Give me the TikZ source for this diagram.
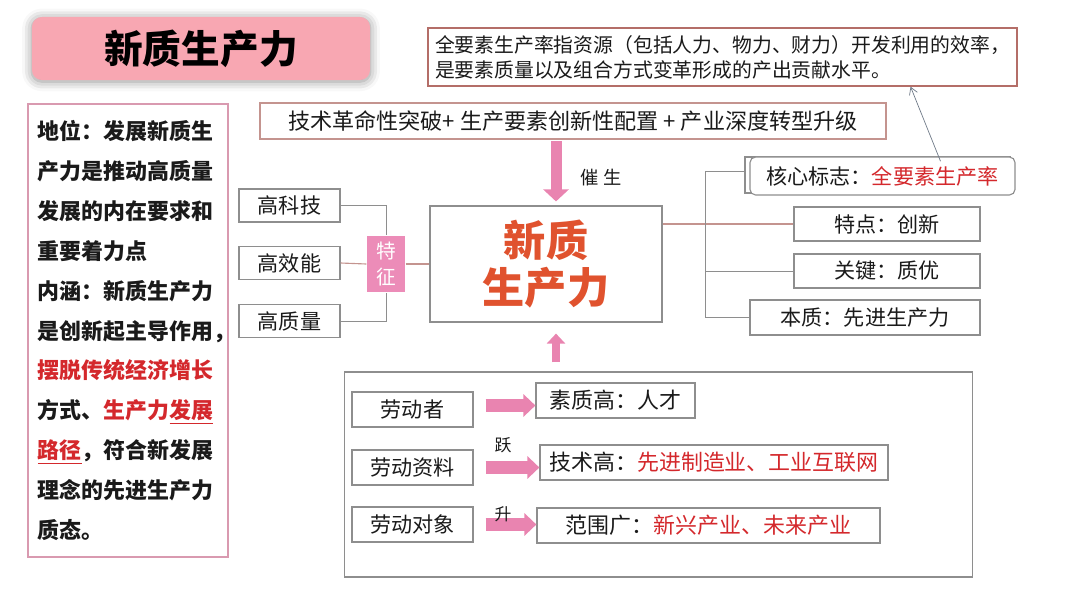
\documentclass[tikz,border=0pt]{standalone}
\usepackage{fontspec}
\setmainfont{Noto Sans CJK SC}
\usetikzlibrary{arrows.meta,shadows.blur}

\definecolor{titlepink}{HTML}{F8A7B2}
\definecolor{arrowpink}{HTML}{E984B0}
\definecolor{markpink}{HTML}{EC8CB8}
\definecolor{boxgray}{HTML}{8E8E8E}
\definecolor{brownline}{HTML}{B46E68}
\definecolor{techline}{HTML}{C4948F}
\definecolor{sidepink}{HTML}{D99AB0}
\definecolor{keyred}{HTML}{D4282C}
\definecolor{corered}{HTML}{E0522E}
\definecolor{notegray}{HTML}{6F7A88}
\definecolor{inkblack}{HTML}{1A1A1A}

\begin{document}
\begin{tikzpicture}[x=0.025cm,y=-0.025cm,line width=.8pt,text=inkblack,
  box/.style={draw=boxgray,fill=white,inner sep=0pt,font=\fontsize{15}{18}\selectfont},
  link/.style={draw=boxgray,line width=.7pt},
  brownlink/.style={draw=techline,line width=.8pt},
  fatarrow/.style={draw=arrowpink,line width=0.325cm,-{Triangle[width=0.55cm,length=0.3cm]}},
  note/.style={draw=notegray,line width=.5pt,-{Straight Barb[length=5pt,width=6pt]}}]
\useasboundingbox (0,0) rectangle (1080,613);

% title
\node[fill=titlepink,rounded corners=0.25cm,minimum width=8.45cm,minimum height=1.575cm,
  blur shadow={shadow xshift=0pt,shadow yshift=-1pt,shadow blur radius=7pt,shadow opacity=45},
  font=\fontsize{27.5}{30}\selectfont\bfseries,text=black] (title) at (201,48.5) {新质生产力};

% definition of total factor productivity
\node[draw=brownline,fill=white,line width=1pt,minimum width=14.725cm,minimum height=1.45cm,
  align=left,font=\fontsize{14.1}{17.8}\selectfont] (def) at (722.5,57)
  {全要素生产率指资源（包括人力、物力、财力）开发利用的效率，\\是要素质量以及组合方式变革形成的产出贡献水平。};

% driving forces
\node[draw=techline,fill=white,line width=1pt,minimum width=15.65cm,minimum height=0.9cm,
  font=\fontsize{15.7}{18}\selectfont] (tech) at (573,121)
  {技术革命性突破+ 生产要素创新性配置\ + 产业深度转型升级};

% centre
\node[box,minimum width=5.8cm,minimum height=2.9cm,align=center,text=corered,
  font=\fontsize{30}{33}\selectfont\bfseries] (core) at (546,264) {新质\\生产力};

\coordinate (dn) at ([xshift=0.25cm]core.north);
\coordinate (up) at ([xshift=0.25cm]core.south);
\draw[draw=arrowpink,line width=0.275cm,-{Triangle[width=0.625cm,length=0.3cm]},shorten <=1pt,shorten >=0.1cm]
  (dn |- tech.south) -- (dn);
\node[font=\fontsize{13}{15}\selectfont] (cs) at (601,178) {催 生};

% features on the left
\node[box,minimum width=2.525cm,minimum height=0.825cm] (gkj) at (289.5,205.5) {高科技};
\node[box,minimum width=2.525cm,minimum height=0.825cm] (gxn) at (289.5,263) {高效能};
\node[box,minimum width=2.525cm,minimum height=0.825cm] (gzl) at (289.5,321) {高质量};
\node[fill=markpink,minimum width=0.95cm,minimum height=1.4cm,inner sep=0pt,align=center,
  text=white,font=\fontsize{14}{19}\selectfont] (tz) at (386,264) {特\\征};
\draw[link] (gkj.east) -| (tz.north);
\draw[link] (gzl.east) -| (tz.south);
\draw[brownlink] (gxn.east) -- (tz.west);
\draw[brownlink] (tz.east) -- (core.west);

% attributes on the right
\node[draw=boxgray,fill=white,minimum width=6.625cm,minimum height=0.9cm,inner sep=0pt] (hxb) at (877.5,175) {};
\node[box,rounded corners=4pt,minimum width=6.625cm,minimum height=0.95cm] (hx) at (882.5,176)
  {核心标志：\textcolor{keyred}{全要素生产率}};
\node[box,minimum width=4.65cm,minimum height=0.85cm] (td) at (887,224) {特点：创新};
\node[box,minimum width=4.65cm,minimum height=0.85cm] (gj) at (887,271) {关键：质优};
\node[box,minimum width=5.75cm,minimum height=0.875cm] (bz) at (865,317.5) {本质：先进生产力};
\coordinate (trunk) at (705,171);
\draw[brownlink] (core.east |- td.west) -- (td.west);
\draw[link] (hxb.west |- trunk) -- (trunk) -- (trunk |- bz.west) -- (bz.west);
\draw[link] (gj.west) -- (gj.west -| trunk);
\draw[note] ([xshift=1.45cm,yshift=-0.12cm]hx.north) -- ([xshift=4.7cm]def.south);

% position and meaning
\node[draw=sidepink,fill=white,line width=1pt,minimum width=5cm,minimum height=11.325cm,
  inner xsep=0.25cm,inner ysep=0pt,text width=4.5cm,align=left,
  font=\fontsize{15.6}{28.4}\selectfont\bfseries] (side) at (128,330.5)
  {地位：发展新质生\\产力是推动高质量\\发展的内在要求和\\重要着力点\\内涵：新质生产力\\是创新起主导作用，\\
   \textcolor{keyred}{摆脱传统经济增长}\\方式、\textcolor{keyred}{生产力\underline{发展}}\\
   \textcolor{keyred}{\underline{路径}}，符合新发展\\理念的先进生产力\\质态。};

% factors of production
\node[box,minimum width=15.675cm,minimum height=5.125cm] (low) at (658.5,474.5) {};
\draw[draw=arrowpink,line width=0.2cm,-{Triangle[width=0.45cm,length=0.25cm]},shorten <=0.225cm,shorten >=0.275cm]
  (up |- low.north) -- (up);

\node[box,minimum width=3.025cm,minimum height=0.875cm] (ldz) at (412.5,409.5) {劳动者};
\node[box,minimum width=3.025cm,minimum height=0.875cm] (ldzl) at (412.5,467.5) {劳动资料};
\node[box,minimum width=3.025cm,minimum height=0.875cm] (lddx) at (412.5,524.5) {劳动对象};
\node[box,minimum width=3.975cm,minimum height=0.875cm,font=\fontsize{15.6}{18}\selectfont] (szg) at (615.5,400.5) {素质高：人才};
\node[box,minimum width=8.7cm,minimum height=0.875cm,font=\fontsize{15.6}{18}\selectfont] (jsg) at (714,462.5)
  {技术高：\textcolor{keyred}{先进制造业、工业互联网}};
\node[box,minimum width=8.575cm,minimum height=0.875cm,font=\fontsize{15.6}{18}\selectfont] (fwg) at (708.5,525.5)
  {范围广：\textcolor{keyred}{新兴产业、未来产业}};

\draw[fatarrow] ([xshift=0.3cm,yshift=0.1cm]ldz.east) -- ([yshift=0.1cm]ldz.east -| szg.west);
\draw[fatarrow] ([xshift=0.3cm]ldzl.east) -- (ldzl.east -| jsg.west);
\draw[fatarrow] ([xshift=0.3cm]lddx.east) -- (lddx.east -| fwg.west);
\node[font=\fontsize{12}{14}\selectfont] (yue) at (503,445) {跃};
\node[font=\fontsize{12}{14}\selectfont] (sheng) at (503,514) {升};
\end{tikzpicture}
\end{document}
